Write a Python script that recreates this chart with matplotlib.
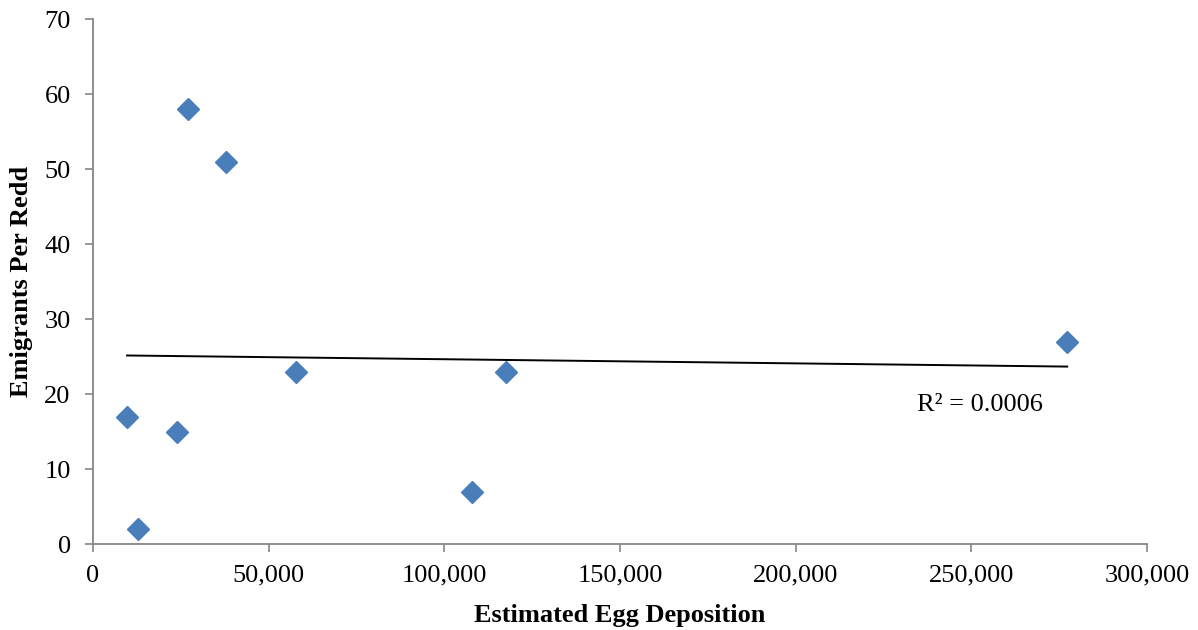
import numpy as np
import matplotlib.pyplot as plt

plt.rcParams['font.family'] = ['Liberation Serif', 'DejaVu Serif']

# estimated egg deposition vs emigrants per redd
eggs = [9700, 12800, 23900, 27000, 37900, 57800, 107900, 117600, 277300]
emigrants = [17, 2, 15, 58, 51, 23, 7, 23, 27]

x_ticks = [0, 50000, 100000, 150000, 200000, 250000, 300000]
y_ticks = [0, 10, 20, 30, 40, 50, 60, 70]

fig = plt.figure(figsize=(11.98, 6.3), dpi=100)
ax = fig.add_axes([0.0776, 0.1365, 0.8798, 0.8333])

ax.plot(eggs, emigrants, 'D', color='#4a7ebb', markersize=11, zorder=3, clip_on=False)

# linear trendline
x = np.array(eggs, dtype=float)
y = np.array(emigrants, dtype=float)
p = np.polyfit(x, y, 1)
yfit = np.polyval(p, x)
r2 = 1 - np.sum((y - yfit) ** 2) / np.sum((y - y.mean()) ** 2)
xl = np.array([x.min(), x.max()])
ax.plot(xl, np.polyval(p, xl), color='black', linewidth=1.4, zorder=2)
ax.text(252500, 18.5, 'R² = %.4f' % r2, fontsize=19, ha='center', va='center')

ax.set_xlim(0, 300000)
ax.set_ylim(0, 70)
ax.set_xticks(x_ticks)
ax.set_xticklabels(['{:,}'.format(v) for v in x_ticks])
ax.set_yticks(y_ticks)
ax.tick_params(direction='out', length=6, width=1.2, color='#868686', labelsize=19)
ax.tick_params(axis='y', pad=10)
ax.tick_params(axis='x', pad=9)

for s in ['top', 'right']:
    ax.spines[s].set_visible(False)
for s in ['left', 'bottom']:
    ax.spines[s].set_color('#868686')
    ax.spines[s].set_linewidth(1.3)

ax.set_xlabel('Estimated Egg Deposition', fontsize=19, fontweight='bold', labelpad=12)
ax.set_ylabel('Emigrants Per Redd', fontsize=19, fontweight='bold', labelpad=8)

fig.savefig('out.png', dpi=100)
